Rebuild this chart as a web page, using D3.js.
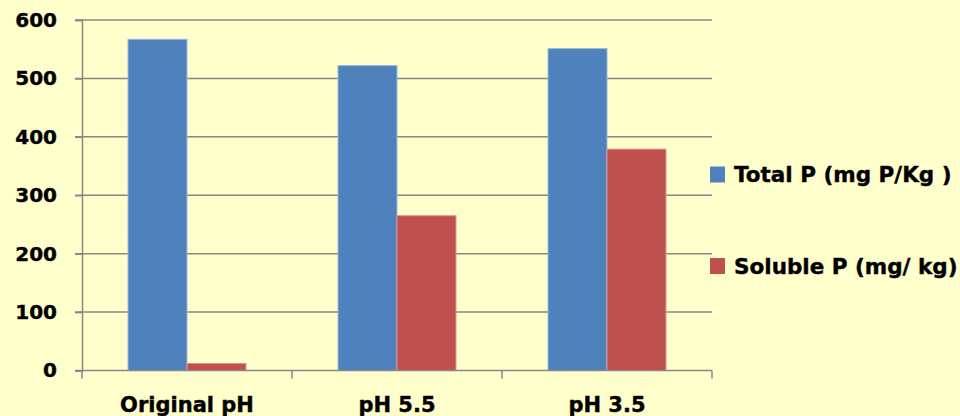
<!DOCTYPE html>
<html><head><meta charset="utf-8">
<script src="https://cdn.jsdelivr.net/npm/d3@7"></script>
<style>
html,body{margin:0;padding:0;background:#FFFFCC;}
svg{display:block;}
text{font-family:"DejaVu Sans",Verdana,sans-serif;font-weight:bold;fill:#000;stroke:#111;stroke-width:0.45px;}
</style></head>
<body>
<svg id="chart" width="960" height="416"></svg>
<script>
const categories = ["Original pH", "pH 5.5", "pH 3.5"];
const seriesNames = ["Total P (mg P/Kg )", "Soluble P (mg/ kg)"];
const totalP = [567, 522, 551];
const solubleP = [12, 265, 379];
const yTicks = [0, 100, 200, 300, 400, 500, 600];
const colors = ["#4F81BD", "#C0504D"];

(function () {
const svg = d3.select("#chart");
const W = 960, H = 416;
svg.append("rect").attr("width", W).attr("height", H).attr("fill", "#FFFFCC");

const mLeft = 82, mRight = 712, mTop = 20, mBottom = 370.5;
const x = d3.scaleBand().domain(categories).range([mLeft, mRight]).paddingInner(0).paddingOuter(0);
const y = d3.scaleLinear().domain([0, 600]).range([mBottom, mTop]);
const xs = d3.scaleBand().domain([0, 1]).range([0, x.bandwidth()]).paddingInner(0).paddingOuter(0.78);

// gridlines
svg.append("g").selectAll("line").data(yTicks.filter(d => d > 0)).join("line")
  .attr("x1", mLeft - 7).attr("x2", mRight)
  .attr("y1", d => y(d)).attr("y2", d => y(d))
  .attr("stroke", "#878787").attr("stroke-width", 1.5);

// y axis
const yAxis = d3.axisLeft(y).tickValues(yTicks).tickSize(7).tickPadding(18);
const gy = svg.append("g").attr("transform", `translate(${mLeft},0)`).call(yAxis);
gy.select(".domain").attr("stroke", "#878787").attr("stroke-width", 1.5);
gy.selectAll(".tick line").attr("stroke", "#878787").attr("stroke-width", 1.5);
gy.selectAll(".tick text").attr("font-size", 20).attr("font-family", "DejaVu Sans").attr("font-weight", "bold").attr("fill", "#000");

// bars
const data = categories.map((c, i) => ({c, vals: [totalP[i], solubleP[i]]}));
const groups = svg.append("g").selectAll("g").data(data).join("g")
  .attr("transform", d => `translate(${x(d.c)},0)`);
groups.selectAll("rect").data(d => d.vals.map((v, k) => ({v, k}))).join("rect")
  .attr("x", d => xs(d.k)).attr("width", xs.bandwidth())
  .attr("y", d => y(d.v)).attr("height", d => y(0) - y(d.v))
  .attr("fill", d => colors[d.k])
  .attr("stroke", d => d.k === 0 ? "#9DB8DA" : "#D99593").attr("stroke-width", 1);

// x axis
const xAxisScale = d3.scaleLinear().domain([0, 3]).range([mLeft, mRight]);
const gx = svg.append("g").attr("transform", `translate(0,${mBottom})`);
gx.append("line").attr("x1", mLeft - 7).attr("x2", mRight).attr("stroke", "#878787").attr("stroke-width", 1.5);
gx.selectAll("line.t").data([0, 1, 2, 3]).join("line").attr("class", "t")
  .attr("x1", d => xAxisScale(d)).attr("x2", d => xAxisScale(d))
  .attr("y1", 0).attr("y2", 8).attr("stroke", "#878787").attr("stroke-width", 1.5);
gx.selectAll("text").data(categories).join("text")
  .attr("x", d => x(d) + x.bandwidth() / 2).attr("y", 41)
  .attr("text-anchor", "middle").attr("font-size", 21).text(d => d);

// legend
const leg = svg.append("g");
const legY = [166.5, 258];
seriesNames.forEach((n, i) => {
  leg.append("rect").attr("x", 710).attr("y", legY[i]).attr("width", 15).attr("height", 16).attr("fill", colors[i]);
  leg.append("text").attr("x", 734).attr("y", legY[i] + 15.5).attr("font-size", 21.5).text(n);
});
})();
</script>
</body></html>
